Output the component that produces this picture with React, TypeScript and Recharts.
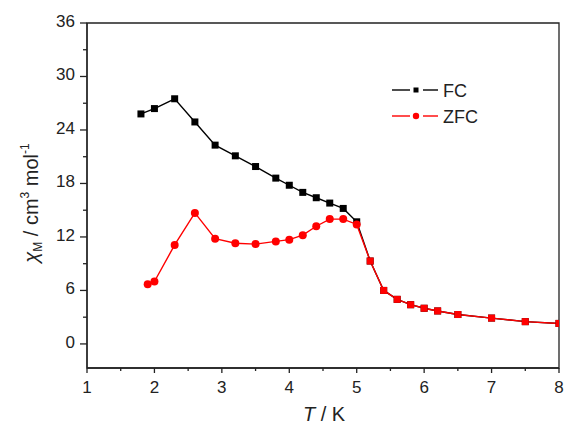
import { LineChart, Line, XAxis, YAxis, ReferenceArea } from "recharts";

// temperature (K) and chi_M (cm3 mol-1)
const fcTemps = [1.8, 2.0, 2.3, 2.6, 2.9, 3.2, 3.5, 3.8, 4.0, 4.2, 4.4, 4.6, 4.8, 5.0, 5.2, 5.4, 5.6, 5.8, 6.0, 6.2, 6.5, 7.0, 7.5, 8.0];
const fcChi = [25.8, 26.4, 27.5, 24.9, 22.3, 21.1, 19.9, 18.6, 17.8, 17.0, 16.4, 15.8, 15.2, 13.7, 9.3, 6.0, 5.0, 4.4, 4.0, 3.7, 3.3, 2.9, 2.5, 2.3];
const zfcTemps = [1.9, 2.0, 2.3, 2.6, 2.9, 3.2, 3.5, 3.8, 4.0, 4.2, 4.4, 4.6, 4.8, 5.0, 5.2, 5.4, 5.6, 5.8, 6.0, 6.2, 6.5, 7.0, 7.5, 8.0];
const zfcChi = [6.7, 7.0, 11.1, 14.7, 11.8, 11.3, 11.2, 11.5, 11.7, 12.2, 13.2, 14.0, 14.0, 13.4, 9.3, 6.0, 5.0, 4.4, 4.0, 3.7, 3.3, 2.9, 2.5, 2.3];

const xTicks = [1, 1.5, 2, 2.5, 3, 3.5, 4, 4.5, 5, 5.5, 6, 6.5, 7, 7.5, 8];
const yTicks = [0, 3, 6, 9, 12, 15, 18, 21, 24, 27, 30, 33, 36];
const yLabelled = [0, 6, 12, 18, 24, 30, 36];

const fcData = fcTemps.map((T, i) => ({ T, chi: fcChi[i] }));
const zfcData = zfcTemps.map((T, i) => ({ T, chi: zfcChi[i] }));

const FONT = "'Liberation Sans', Arial, sans-serif";
const AXIS = "#222";
const RED = "#ff0000";

function XTick({ x, y, payload }: any) {
  const major = Number.isInteger(payload.value);
  return (
    <g>
      <line x1={x} x2={x} y1={y} y2={y + (major ? 5 : 3)} stroke={AXIS} strokeWidth={1.3} />
      {major && (
        <text x={x} y={y + 25} textAnchor="middle" fontSize={17} fill="#222" fontFamily={FONT}>
          {payload.value}
        </text>
      )}
    </g>
  );
}

function YTick({ x, y, payload }: any) {
  const major = yLabelled.includes(payload.value);
  return (
    <g>
      <line x1={x} x2={x - (major ? 7 : 4)} y1={y} y2={y} stroke={AXIS} strokeWidth={1.3} />
      {major && (
        <text x={x - 12} y={y + 4} textAnchor="end" fontSize={17} fill="#222" fontFamily={FONT}>
          {payload.value}
        </text>
      )}
    </g>
  );
}

function FcDot({ cx, cy, index }: any) {
  if (cx == null || cy == null) return null;
  return <rect key={`fc-${index}`} x={cx - 3.5} y={cy - 3.5} width={7} height={7} fill="#000" />;
}

function ZfcDot({ cx, cy, index, payload }: any) {
  if (cx == null || cy == null) return null;
  if (payload.T > 5.1) {
    return <rect key={`zfc-${index}`} x={cx - 3.5} y={cy - 3.5} width={7} height={7} fill={RED} />;
  }
  return <circle key={`zfc-${index}`} cx={cx} cy={cy} r={4} fill={RED} />;
}

function YTitle() {
  return (
    <text transform="translate(38,203) rotate(-90)" textAnchor="middle" fontSize={20} fill="#222" fontFamily={FONT}>
      <tspan fontStyle="italic">χ</tspan>
      <tspan fontSize={12} dy={4}>M</tspan>
      <tspan dy={-4}> / cm</tspan>
      <tspan fontSize={12} dy={-9}>3</tspan>
      <tspan dy={9}> mol</tspan>
      <tspan fontSize={12} dy={-9}>-1</tspan>
    </text>
  );
}

function XTitle() {
  return (
    <text x={324} y={421} textAnchor="middle" fontSize={20} fill="#222" fontFamily={FONT}>
      <tspan fontStyle="italic">T</tspan>
      <tspan> / K</tspan>
    </text>
  );
}

function LegendBox() {
  return (
    <svg width={110} height={54} style={{ position: "absolute", left: 388, top: 76 }}>
      <g fontFamily={FONT} fontSize={18} fill="#222">
        <line x1={4} x2={22} y1={14} y2={14} stroke="#000" strokeWidth={1.4} />
        <rect x={25.5} y={11.5} width={5} height={5} fill="#000" />
        <line x1={35} x2={50} y1={14} y2={14} stroke="#000" strokeWidth={1.4} />
        <text x={55} y={20.5}>FC</text>
        <line x1={4} x2={22} y1={40} y2={40} stroke={RED} strokeWidth={1.4} />
        <circle cx={28} cy={40} r={3.2} fill={RED} />
        <line x1={35} x2={50} y1={40} y2={40} stroke={RED} strokeWidth={1.4} />
        <text x={55} y={46.5}>ZFC</text>
      </g>
    </svg>
  );
}

export default function App() {
  return (
    <div style={{ position: "absolute", left: 0, top: 0, width: 565, height: 425, background: "#fff" }}>
      <LineChart width={565} height={425} margin={{ top: 23, right: 6, bottom: 0, left: 0 }}>
        <XAxis
          dataKey="T"
          type="number"
          domain={[1, 8]}
          ticks={xTicks}
          interval={0}
          allowDataOverflow
          height={57}
          tickSize={0}
          tickMargin={0}
          tickLine={false}
          tick={<XTick />}
          axisLine={{ stroke: AXIS, strokeWidth: 1.3 }}
          label={{ content: () => <XTitle /> }}
        />
        <YAxis
          dataKey="chi"
          type="number"
          domain={[-2.7, 36]}
          ticks={yTicks}
          interval={0}
          allowDataOverflow
          width={87}
          tickSize={0}
          tickMargin={0}
          tickLine={false}
          tick={<YTick />}
          axisLine={{ stroke: AXIS, strokeWidth: 1.3 }}
          label={{ content: () => <YTitle /> }}
        />
        <ReferenceArea x1={1} x2={8} y1={-2.7} y2={36} fill="none" stroke={AXIS} strokeWidth={1.3} />
        <Line
          data={fcData}
          dataKey="chi"
          type="linear"
          stroke="#000"
          strokeWidth={1.4}
          dot={FcDot}
          activeDot={false}
          isAnimationActive={false}
        />
        <Line
          data={zfcData}
          dataKey="chi"
          type="linear"
          stroke={RED}
          strokeWidth={1.4}
          dot={ZfcDot}
          activeDot={false}
          isAnimationActive={false}
        />
      </LineChart>
      <LegendBox />
    </div>
  );
}
